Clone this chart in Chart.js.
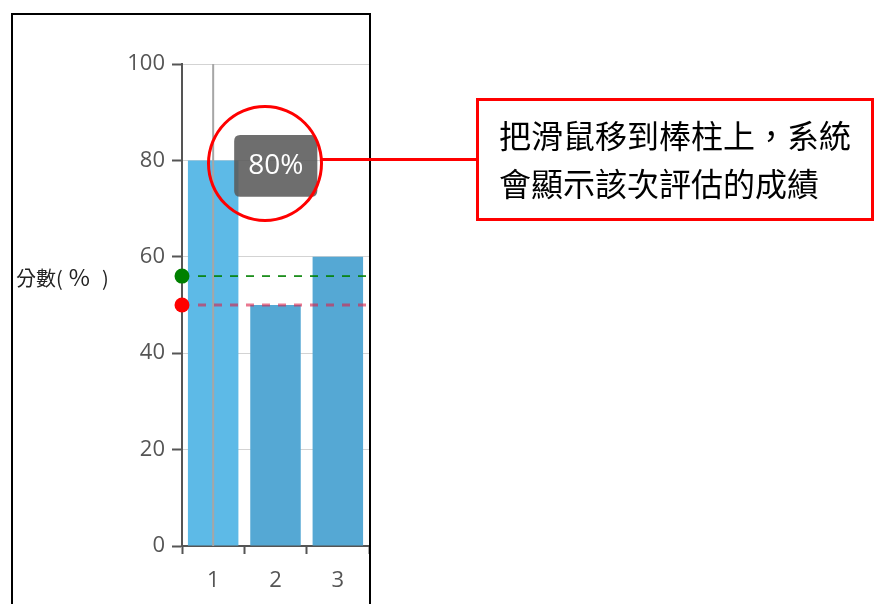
<!DOCTYPE html>
<html>
<head>
<meta charset="utf-8">
<script src="https://cdn.jsdelivr.net/npm/chart.js@4"></script>
<style>
  html, body { margin: 0; padding: 0; background: #fff; overflow: hidden; width: 875px; height: 604px; }
  #panel { position: absolute; left: 11px; top: 13px; width: 356px; height: 640px; border: 2px solid #000; }
  #wrap { position: relative; width: 356px; height: 600px; }
  #ylabel { position: absolute; left: 16px; top: 259px; font: 20px "Noto Sans CJK TC", sans-serif; color: #222; white-space: nowrap; }
  #circle { position: absolute; left: 207px; top: 105px; width: 116px; height: 117px; border: 3px solid #f00; border-radius: 50%; box-sizing: border-box; }
  #link { position: absolute; left: 322px; top: 158px; width: 156px; height: 3px; background: #f00; }
  #note { position: absolute; left: 476px; top: 98px; width: 398px; height: 123px; border: 3px solid #f00; box-sizing: border-box; }
  #noteText { position: absolute; left: 499px; top: 111px; font: 32px "Noto Sans CJK TC", sans-serif; line-height: 47.5px; color: #000; white-space: nowrap; }
</style>
</head>
<body>
<div id="panel">
  <div id="wrap"><canvas id="scoreChart"></canvas></div>
</div>
<div id="ylabel">分數<span>(</span><span style="margin-left:6px;font-size:23px">%</span><span style="margin-left:12px">)</span></div>
<div id="circle"></div>
<div id="link"></div>
<div id="note"></div>
<div id="noteText">把滑鼠移到棒柱上，系統<br>會顯示該次評估的成績</div>

<script>
// 評估次數與成績
const categories = ['1', '2', '3'];
const scores = [80, 50, 60];
const yTickValues = [0, 20, 40, 60, 80, 100];
// 參考線：平均分數、及格分數
const referenceValues = [56, 50];
const referenceColors = ['#008000', 'rgba(220, 30, 70, 0.6)'];
const referenceDots = ['#008000', '#ff0000'];
const activeIndex = 0;

Chart.defaults.font.family = "'Open Sans', sans-serif";

Chart.Tooltip.positioners.besideBar = function(items) {
    if (!items.length) {
        return false;
    }
    const el = items[0].element;
    return { x: el.x + 21, y: el.y + 5.5 };
};

const guidePlugin = {
    id: 'guides',
    afterDatasetsDraw(chart) {
        const { ctx, chartArea, scales } = chart;
        const x = scales.x;
        const y = scales.y;
        ctx.save();

        // 滑鼠所在位置的垂直線
        const xc = x.getPixelForValue(activeIndex);
        ctx.strokeStyle = '#a6a6a6';
        ctx.lineWidth = 2;
        ctx.beginPath();
        ctx.moveTo(xc, chartArea.top);
        ctx.lineTo(xc, chartArea.bottom);
        ctx.stroke();

        referenceValues.forEach((v, i) => {
            const yp = y.getPixelForValue(v);
            ctx.setLineDash([8, 8]);
            ctx.strokeStyle = referenceColors[i];
            ctx.lineWidth = i === 0 ? 1.6 : 3;
            ctx.beginPath();
            ctx.moveTo(chartArea.left + 16, yp);
            ctx.lineTo(chartArea.right, yp);
            ctx.stroke();

            ctx.setLineDash([]);
            ctx.fillStyle = referenceDots[i];
            ctx.beginPath();
            ctx.arc(chartArea.left, yp, 7.5, 0, Math.PI * 2);
            ctx.fill();
        });
        ctx.restore();
    }
};

const ctx = document.getElementById('scoreChart').getContext('2d');

const scoreChart = new Chart(ctx, {
    type: 'bar',
    data: {
        labels: categories,
        datasets: [{
            data: scores,
            backgroundColor: '#55a8d4',
            hoverBackgroundColor: '#5dbae7',
            borderWidth: 0,
            barPercentage: 0.9,
            categoryPercentage: 0.9
        }]
    },
    options: {
        responsive: true,
        maintainAspectRatio: false,
        animation: false,
        events: [],
        layout: { padding: { top: 49, left: 0, right: 0, bottom: 0 } },
        scales: {
            x: {
                afterFit: function(scale) { scale.height = 69; },
                border: { color: '#555', width: 2 },
                grid: {
                    drawOnChartArea: false,
                    tickLength: 8,
                    tickColor: '#555',
                    tickWidth: 2
                },
                ticks: {
                    color: '#555',
                    font: { size: 22 },
                    padding: 14
                }
            },
            y: {
                min: 0,
                max: 100,
                afterFit: function(scale) { scale.width = 169; },
                afterBuildTicks: function(scale) {
                    scale.ticks = yTickValues.map(v => ({ value: v }));
                },
                border: { color: '#555', width: 2 },
                grid: {
                    color: '#d3d3d3',
                    lineWidth: 1,
                    tickLength: 10,
                    tickColor: '#555',
                    tickWidth: 2
                },
                ticks: {
                    color: '#555',
                    font: { size: 22 },
                    padding: 7
                }
            }
        },
        plugins: {
            legend: { display: false },
            tooltip: {
                position: 'besideBar',
                xAlign: 'left',
                yAlign: 'center',
                caretSize: 0,
                caretPadding: 0,
                displayColors: false,
                backgroundColor: 'rgba(90, 90, 90, 0.88)',
                bodyColor: '#fff',
                bodyFont: { size: 28 },
                padding: 14,
                cornerRadius: 6,
                callbacks: {
                    title: function() { return ''; },
                    label: function(context) {
                        return context.parsed.y + '%';
                    }
                }
            }
        }
    },
    plugins: [guidePlugin]
});

const active = [{ datasetIndex: 0, index: activeIndex }];
scoreChart.setActiveElements(active);
scoreChart.update('none');
scoreChart.tooltip.setActiveElements(active, { x: 0, y: 0 });
scoreChart.draw();
</script>
</body>
</html>
